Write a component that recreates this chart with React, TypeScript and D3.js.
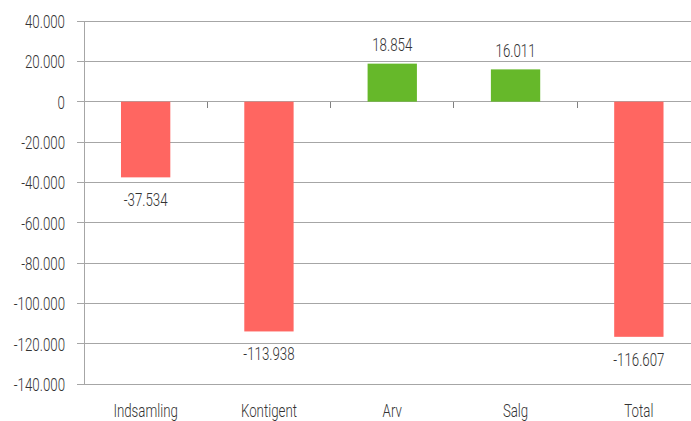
import React, { useEffect, useRef } from 'react'
import * as d3 from 'd3'

// chart data
const categories = ['Indsamling', 'Kontigent', 'Arv', 'Salg', 'Total']
const values = [-37534, -113938, 18854, 16011, -116607]
const yTicks = [40000, 20000, 0, -20000, -40000, -60000, -80000, -100000, -120000, -140000]

const locale = d3.formatLocale({ decimal: ',', thousands: '.', grouping: [3], currency: ['', ' kr'], minus: '-' })
const fmt = locale.format(',d')

function App() {
  const ref = useRef<SVGSVGElement>(null)

  useEffect(() => {
    const width = 691, height = 421
    const left = 84, right = 700.5, top = 21, bottom = 384
    const font = 'Roboto, sans-serif'
    const textColor = '#333333'
    const gridColor = '#a6a6a6'
    const sx = 0.7 // squeeze text to look like the narrow font in the original

    const svg = d3.select(ref.current)
    svg.selectAll('*').remove()
    svg.attr('width', width).attr('height', height)

    const x = d3.scaleBand().domain(categories).range([left, right]).paddingInner(0.6).paddingOuter(0.3)
    const y = d3.scaleLinear().domain([-140000, 40000]).range([bottom, top])

    // gridlines + y ticks
    svg.append('g').selectAll('line')
      .data(yTicks)
      .join('line')
      .attr('x1', left - 7)
      .attr('x2', width)
      .attr('y1', d => y(d))
      .attr('y2', d => y(d))
      .attr('stroke', gridColor)
      .attr('stroke-width', 1)
      .attr('shape-rendering', 'crispEdges')

    // y axis line
    svg.append('line')
      .attr('x1', left).attr('x2', left)
      .attr('y1', top).attr('y2', bottom)
      .attr('stroke', gridColor)
      .attr('shape-rendering', 'crispEdges')

    // category boundary ticks on zero line
    const bounds = categories.slice(1).map(c => (x(c) as number) - x.step() * x.paddingInner() / 2)
    svg.append('g').selectAll('line')
      .data(bounds)
      .join('line')
      .attr('x1', d => d)
      .attr('x2', d => d)
      .attr('y1', y(0))
      .attr('y2', y(0) + 6)
      .attr('stroke', '#808080')
      .attr('shape-rendering', 'crispEdges')

    const label = (sel: any) => sel
      .attr('dy', '0.36em')
      .attr('font-family', font)
      .attr('font-weight', 300)
      .attr('font-size', 19)
      .attr('fill', textColor)

    // y tick labels
    svg.append('g').selectAll('text')
      .data(yTicks)
      .join('text')
      .attr('transform', d => `translate(65,${y(d)}) scale(${sx},1)`)
      .attr('text-anchor', 'end')
      .call(label)
      .text(d => fmt(d))

    // bars
    svg.append('g').selectAll('rect')
      .data(values)
      .join('rect')
      .attr('x', (d, i) => x(categories[i]) as number)
      .attr('width', x.bandwidth())
      .attr('y', d => y(Math.max(0, d)))
      .attr('height', d => Math.abs(y(d) - y(0)))
      .attr('fill', d => d < 0 ? '#ff6661' : '#66b82a')

    // value labels
    svg.append('g').selectAll('text')
      .data(values)
      .join('text')
      .attr('transform', (d, i) => {
        const cx = (x(categories[i]) as number) + x.bandwidth() / 2
        const cy = d < 0 ? y(d) + 22 : y(d) - 19
        return `translate(${cx},${cy}) scale(${sx},1)`
      })
      .attr('text-anchor', 'middle')
      .call(label)
      .text(d => fmt(d))

    // category labels
    svg.append('g').selectAll('text')
      .data(categories)
      .join('text')
      .attr('transform', d => `translate(${(x(d) as number) + x.bandwidth() / 2},410) scale(${sx},1)`)
      .attr('text-anchor', 'middle')
      .call(label)
      .text(d => d)
  }, [])

  return (
    <div style={{ position: 'absolute', left: 0, top: 0, width: 691, height: 421, background: '#fff' }}>
      <svg ref={ref} style={{ display: 'block' }} />
    </div>
  )
}

export default App
